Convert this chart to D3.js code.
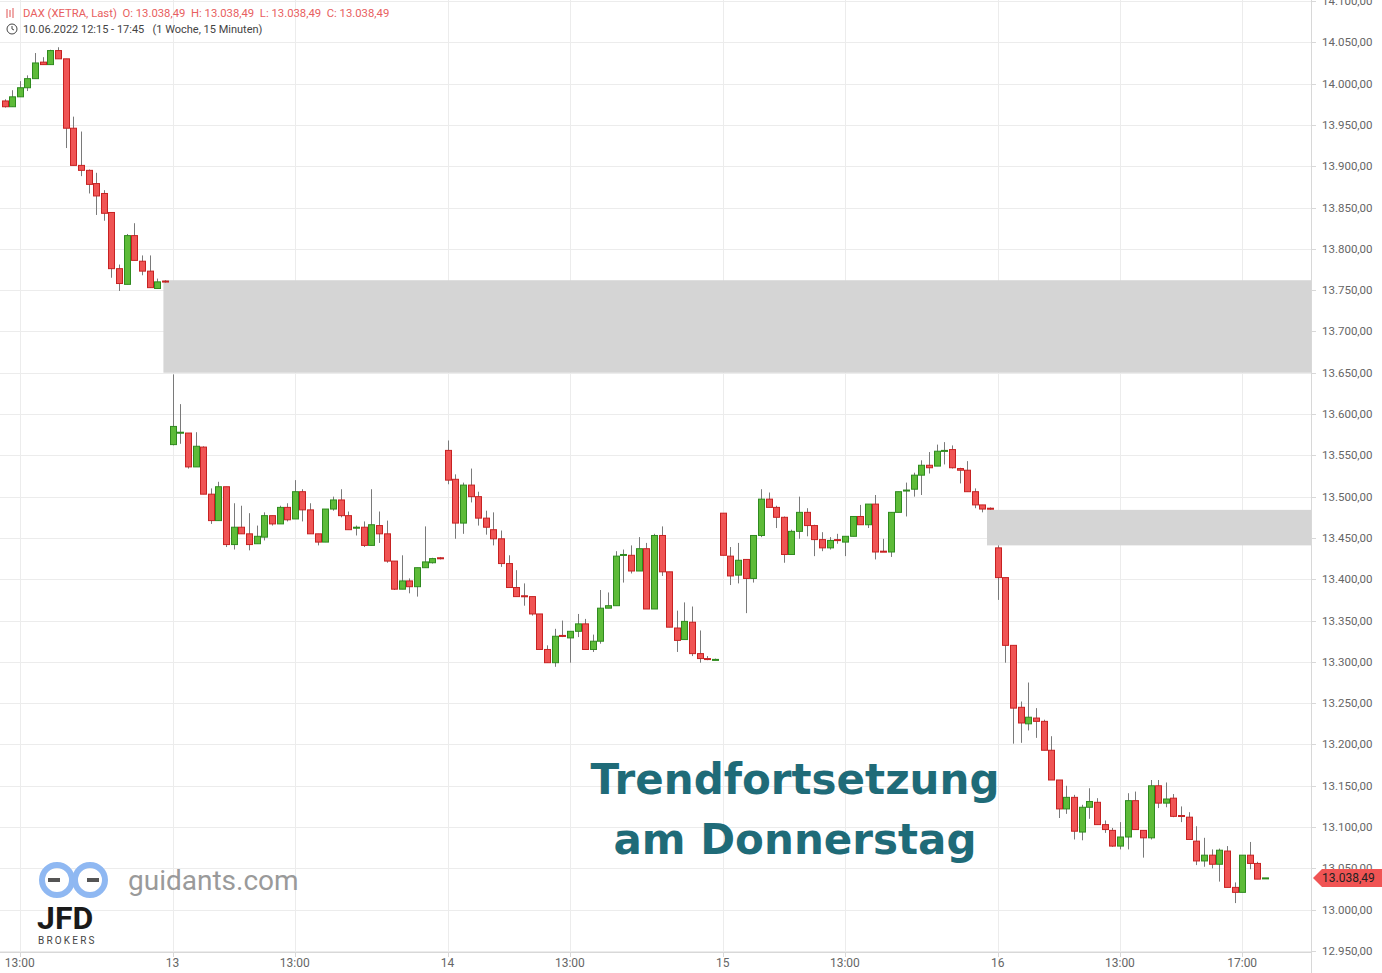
<!DOCTYPE html>
<html>
<head>
<meta charset="utf-8">
<script src="https://cdn.jsdelivr.net/npm/d3@7"></script>
<style>
  body { margin: 0; background: #fff; }
  svg { display: block; font-family: Roboto, "Liberation Sans", Arial, sans-serif; }
</style>
</head>
<body>
<svg id="chart" width="1382" height="973"></svg>
<script>
// candles as [open, high, low, close], 15 minute bars
const fri = [
  [13979,13981,13971,13972],[13972,13992,13972,13984],[13984,14003,13984,13995],[13995,14010,13991,14006],
  [14006,14037,14006,14025],[14026,14032,14023,14023],[14023,14041,14023,14040],[14040,14044,14030,14030],
  [14030,14030,13922,13946],[13946,13960,13901,13901],[13901,13942,13888,13895],[13895,13896,13867,13878],
  [13879,13892,13841,13864],[13867,13871,13834,13843],[13844,13844,13765,13776],[13776,13781,13749,13758],
  [13757,13818,13757,13816],[13816,13831,13786,13786],[13785,13792,13768,13773],[13773,13792,13753,13753],
  [13752,13764,13752,13760],[13761,13762,13759,13760]
];
const mon = [
  [13563,13648,13562,13585],[13577,13612,13564,13578],[13577,13577,13534,13536],[13536,13578,13536,13561],
  [13560,13561,13503,13503],[13503,13510,13467,13471],[13471,13518,13471,13512],[13512,13512,13439,13442],
  [13442,13492,13436,13463],[13463,13489,13455,13455],[13455,13480,13435,13442],[13443,13465,13443,13452],
  [13451,13481,13447,13477],[13477,13477,13465,13467],[13467,13489,13467,13487],[13487,13492,13470,13472],
  [13473,13520,13473,13506],[13506,13509,13470,13484],[13484,13492,13455,13455],[13455,13455,13441,13445],
  [13445,13485,13445,13485],[13485,13500,13483,13496],[13496,13509,13475,13477],[13477,13482,13460,13460],
  [13462,13465,13453,13463],[13463,13470,13439,13441],[13441,13509,13441,13466],[13465,13482,13444,13455],
  [13455,13471,13420,13422],[13422,13422,13387,13388],[13388,13429,13388,13398],[13398,13401,13383,13391],
  [13391,13414,13379,13414],[13414,13464,13414,13421],[13420,13426,13419,13425],[13426,13427,13424,13425]
];
const tue = [
  [13556,13568,13515,13520],[13521,13527,13449,13468],[13468,13517,13455,13514],[13514,13534,13493,13500],
  [13500,13506,13465,13474],[13474,13483,13454,13463],[13460,13481,13441,13449],[13449,13459,13415,13419],
  [13419,13429,13390,13390],[13390,13411,13379,13379],[13380,13395,13368,13379],[13379,13379,13356,13358],
  [13358,13358,13315,13315],[13315,13320,13299,13299],[13299,13340,13294,13331],[13332,13350,13330,13331],
  [13329,13337,13299,13337],[13337,13358,13330,13346],[13346,13352,13315,13315],[13315,13333,13312,13325],
  [13325,13387,13322,13365],[13365,13384,13365,13368],[13368,13434,13368,13428],[13429,13436,13396,13430],
  [13429,13441,13407,13410],[13410,13451,13410,13437],[13437,13444,13364,13364],[13364,13455,13364,13453],
  [13453,13464,13404,13409],[13409,13409,13342,13342],[13341,13362,13312,13326],[13327,13372,13327,13349],
  [13348,13367,13307,13310],[13310,13338,13299,13304],[13304,13307,13302,13303],[13303,13304,13302,13303]
];
const wed = [
  [13480,13480,13429,13429],[13428,13439,13393,13404],[13405,13444,13395,13423],[13424,13424,13359,13401],
  [13401,13453,13396,13453],[13453,13509,13451,13497],[13497,13505,13487,13487],[13487,13489,13462,13475],
  [13475,13476,13420,13430],[13430,13460,13430,13458],[13458,13500,13449,13481],[13481,13486,13452,13465],
  [13465,13466,13428,13448],[13448,13457,13434,13438],[13438,13451,13436,13447],[13448,13455,13443,13447],
  [13445,13452,13428,13452],[13452,13476,13452,13476],[13476,13490,13466,13466],[13466,13491,13462,13491],
  [13491,13502,13424,13433],[13434,13449,13433,13433],[13433,13481,13427,13481],[13481,13506,13481,13506],
  [13507,13517,13476,13508],[13509,13529,13500,13526],[13526,13544,13502,13538],[13538,13554,13528,13535],
  [13537,13563,13537,13555],[13555,13566,13539,13556],[13557,13562,13534,13535],[13534,13535,13516,13532],
  [13532,13543,13506,13506],[13506,13510,13486,13490],[13490,13490,13481,13485],[13486,13487,13484,13485]
];
const thu = [
  [13438,13441,13375,13402],[13402,13402,13299,13320],[13320,13320,13201,13244],[13245,13252,13202,13226],
  [13225,13275,13217,13233],[13232,13244,13208,13228],[13228,13230,13193,13193],[13193,13210,13157,13157],
  [13157,13157,13111,13122],[13122,13150,13116,13136],[13136,13139,13085,13095],[13094,13127,13084,13124],
  [13124,13147,13110,13131],[13130,13135,13103,13103],[13103,13108,13093,13097],[13096,13099,13076,13077],
  [13077,13106,13073,13088],[13088,13141,13073,13132],[13132,13143,13097,13097],[13096,13096,13063,13087],
  [13087,13157,13085,13150],[13150,13157,13123,13129],[13129,13154,13124,13134],[13135,13140,13112,13113],
  [13114,13125,13106,13113],[13112,13118,13085,13085],[13083,13101,13054,13059],[13059,13087,13052,13066],
  [13066,13073,13050,13055],[13055,13074,13034,13072],[13071,13077,13027,13027],[13027,13033,13008,13021],
  [13021,13066,13021,13066],[13066,13082,13049,13056],[13056,13058,13037,13037],[13038.49,13038.49,13038.49,13038.49]
];
const lastPrice = 13038.49;

// x axis labels and the bar slot they sit on
const xTickLabels = ["13:00","13","13:00","14","13:00","15","13:00","16","13:00","17:00"];
const xTickSlots = [2, 22, 38, 58, 74, 94, 110, 130, 146, 162];

const yTicks = d3.range(12950, 14101, 50);

// gray gap zones: price top / bottom, starting slot
const zoneTop = [13762, 13484];
const zoneBottom = [13650, 13441];
const zoneStart = [20.8, 128.6];

const candles = [].concat(fri, mon, tue, wed, thu).map((d, i) => ({
  i, o: d[0], h: Math.max(d[1], d[0], d[3]), l: Math.min(d[2], d[0], d[3]), c: d[3]
}));

const plotRight = 1311, plotBottom = 952;
const svg = d3.select("#chart");
const x = d3.scaleLinear().domain([0, 165]).range([4.5, 4.5 + 165 * 7.64]);
const y = d3.scaleLinear().domain([12950, 14100]).range([951, 1]);
const fmt = v => d3.format(",.2f")(v).replace(/,/g, "#").replace(".", ",").replace(/#/g, ".");

// grid
svg.append("g").selectAll("line").data(yTicks).join("line")
  .attr("x1", 0).attr("x2", plotRight).attr("y1", d => Math.round(y(d)) + 0.5).attr("y2", d => Math.round(y(d)) + 0.5)
  .attr("stroke", "#ececec");
svg.append("g").selectAll("line").data(xTickSlots).join("line")
  .attr("x1", d => Math.round(x(d)) + 0.5).attr("x2", d => Math.round(x(d)) + 0.5)
  .attr("y1", 0).attr("y2", plotBottom).attr("stroke", "#ececec");

// zones
svg.append("g").selectAll("rect").data(zoneTop).join("rect")
  .attr("x", (d, k) => x(zoneStart[k])).attr("width", (d, k) => plotRight - x(zoneStart[k]))
  .attr("y", d => y(d)).attr("height", (d, k) => y(zoneBottom[k]) - y(d))
  .attr("fill", "#d5d5d5");

// candles
const g = svg.append("g");
const up = d => d.c >= d.o;
g.selectAll("line.wick").data(candles).join("line").attr("class", "wick")
  .attr("x1", d => Math.round(x(d.i)) + 0.5).attr("x2", d => Math.round(x(d.i)) + 0.5)
  .attr("y1", d => y(d.h)).attr("y2", d => y(d.l)).attr("stroke", "#7a7a7a");
g.selectAll("rect").data(candles).join("rect")
  .attr("x", d => Math.round(x(d.i)) - 2.5).attr("width", 6)
  .attr("y", d => y(Math.max(d.o, d.c)))
  .attr("height", d => Math.max(1, y(Math.min(d.o, d.c)) - y(Math.max(d.o, d.c))))
  .attr("fill", d => up(d) ? "#5dbb38" : "#f05454")
  .attr("stroke", d => up(d) ? "#2f8a1f" : "#c62222").attr("stroke-width", 1);

// right axis
svg.append("line").attr("x1", plotRight + 0.5).attr("x2", plotRight + 0.5).attr("y1", 0).attr("y2", 973).attr("stroke", "#d8d8d8");
svg.append("line").attr("x1", 0).attr("x2", plotRight).attr("y1", plotBottom + 0.5).attr("y2", plotBottom + 0.5).attr("stroke", "#d8d8d8");
svg.append("g").selectAll("text").data(yTicks).join("text")
  .attr("x", 1322).attr("y", d => y(d) + 4).attr("font-size", 11.5).attr("fill", "#666")
  .text(d => fmt(d));
svg.append("g").selectAll("line").data(yTicks).join("line")
  .attr("x1", plotRight).attr("x2", plotRight + 5).attr("y1", d => Math.round(y(d)) + 0.5).attr("y2", d => Math.round(y(d)) + 0.5)
  .attr("stroke", "#d8d8d8");

// x labels
svg.append("g").selectAll("text").data(xTickLabels).join("text")
  .attr("x", (d, k) => x(xTickSlots[k])).attr("y", 967).attr("text-anchor", "middle")
  .attr("font-size", 12).attr("fill", "#666").text(d => d);
svg.append("g").selectAll("line").data(xTickSlots).join("line")
  .attr("x1", d => Math.round(x(d)) + 0.5).attr("x2", d => Math.round(x(d)) + 0.5)
  .attr("y1", plotBottom).attr("y2", plotBottom + 5).attr("stroke", "#d8d8d8");

// last price marker
const ly = y(lastPrice);
svg.append("path").attr("d", `M1313,${ly} L1322,${ly - 9} L1382,${ly - 9} L1382,${ly + 9} L1322,${ly + 9} Z`).attr("fill", "#f05454");
svg.append("text").attr("x", 1322).attr("y", ly + 4.5).attr("font-size", 12).attr("fill", "#222").text(fmt(lastPrice));

// header
const ic = svg.append("g").attr("stroke", "#e05555").attr("fill", "none");
[[7, 9, 18], [10, 10, 17], [13, 8, 18]].forEach(p => ic.append("line").attr("x1", p[0]).attr("x2", p[0]).attr("y1", p[1]).attr("y2", p[2]));
svg.append("text").attr("x", 23).attr("y", 17).attr("font-size", 11.3).attr("fill", "#e86060")
  .text("DAX (XETRA, Last)  O: 13.038,49  H: 13.038,49  L: 13.038,49  C: 13.038,49").attr("xml:space", "preserve");
svg.append("circle").attr("cx", 12).attr("cy", 29).attr("r", 5).attr("fill", "none").attr("stroke", "#444");
svg.append("path").attr("d", "M12,26 L12,29 L14,30").attr("fill", "none").attr("stroke", "#444");
svg.append("text").attr("x", 23).attr("y", 33).attr("font-size", 11).attr("fill", "#444")
  .attr("xml:space", "preserve").text("10.06.2022 12:15 - 17:45   (1 Woche, 15 Minuten)");

// title
svg.append("text").attr("x", 795).attr("y", 794).attr("text-anchor", "middle").attr("font-size", 42)
  .attr("font-weight", "bold").attr("fill", "#1f6b78").attr("font-family", "'DejaVu Sans', sans-serif").text("Trendfortsetzung");
svg.append("text").attr("x", 795).attr("y", 854).attr("text-anchor", "middle").attr("font-size", 42)
  .attr("font-weight", "bold").attr("fill", "#1f6b78").attr("font-family", "'DejaVu Sans', sans-serif").text("am Donnerstag");

// logo
const lg = svg.append("g");
lg.append("circle").attr("cx", 57).attr("cy", 880).attr("r", 15).attr("fill", "none").attr("stroke", "#8fb8f2").attr("stroke-width", 6);
lg.append("circle").attr("cx", 90).attr("cy", 880).attr("r", 15).attr("fill", "none").attr("stroke", "#8fb8f2").attr("stroke-width", 6);
lg.append("line").attr("x1", 48).attr("x2", 99).attr("y1", 880).attr("y2", 880).attr("stroke", "#555").attr("stroke-width", 4).attr("stroke-dasharray", "12,27");
lg.append("text").attr("x", 37).attr("y", 929).attr("font-size", 32).attr("font-weight", "bold").attr("fill", "#1a1a1a").text("JFD");
lg.append("text").attr("x", 38).attr("y", 944).attr("font-size", 10).attr("letter-spacing", 2.2).attr("fill", "#444").text("BROKERS");
svg.append("text").attr("x", 128).attr("y", 890).attr("font-size", 28).attr("fill", "#9a9a9a").text("guidants.com");
</script>
</body>
</html>
